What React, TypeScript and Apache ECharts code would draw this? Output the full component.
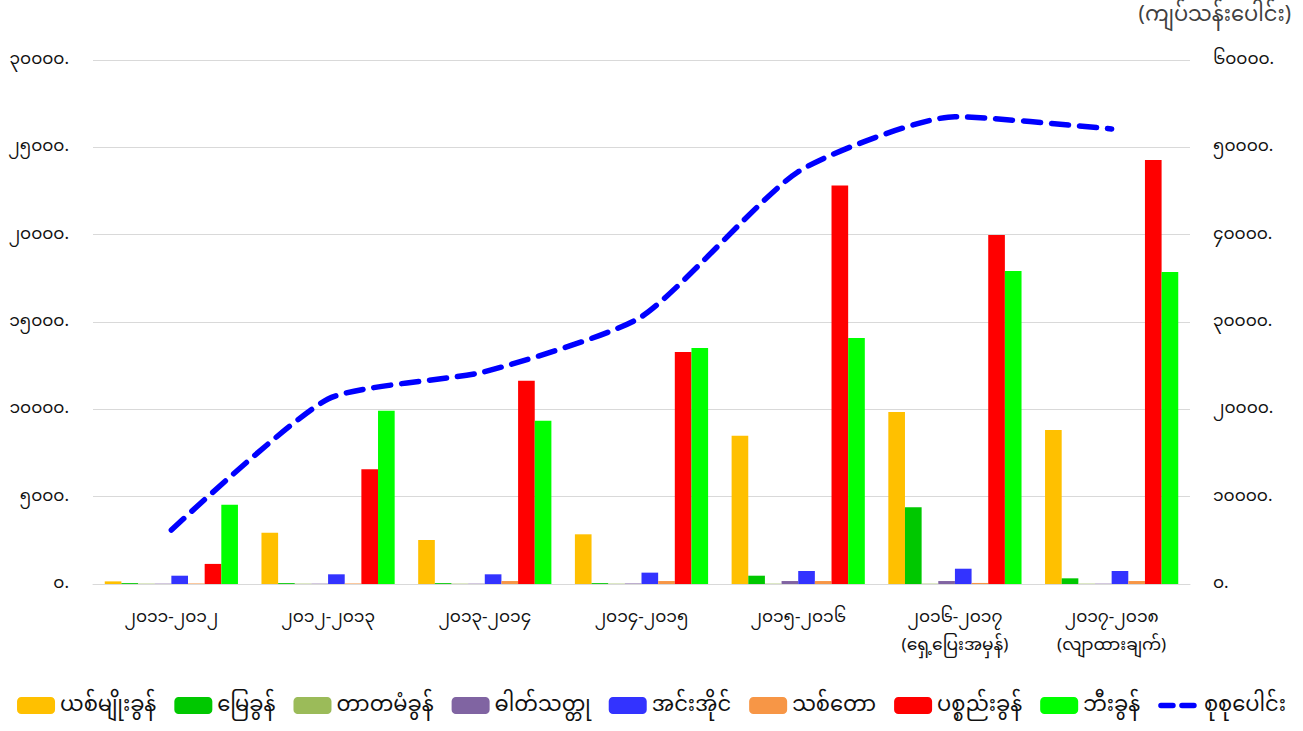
import React, { useEffect, useRef } from "react";
import * as echarts from "echarts";

const categories = [
  "၂၀၁၁-၂၀၁၂",
  "၂၀၁၂-၂၀၁၃",
  "၂၀၁၃-၂၀၁၄",
  "၂၀၁၄-၂၀၁၅",
  "၂၀၁၅-၂၀၁၆",
  "၂၀၁၆-၂၀၁၇\n(ရှေ့ပြေးအမှန်)",
  "၂၀၁၇-၂၀၁၈\n(လျာထားချက်)",
];

const leftTickLabels = ["၀.", "၅၀၀၀.", "၁၀၀၀၀.", "၁၅၀၀၀.", "၂၀၀၀၀.", "၂၅၀၀၀.", "၃၀၀၀၀."];
const rightTickLabels = ["၀.", "၁၀၀၀၀.", "၂၀၀၀၀.", "၃၀၀၀၀.", "၄၀၀၀၀.", "၅၀၀၀၀.", "၆၀၀၀၀."];

const exciseTax = [150, 2940, 2520, 2845, 8490, 9845, 8815];
const landTax = [50, 50, 50, 50, 475, 4390, 325];
const embankmentTax = [20, 20, 20, 20, 20, 20, 20];
const minerals = [20, 20, 20, 30, 170, 170, 20];
const fisheries = [475, 555, 555, 650, 745, 875, 745];
const forest = [30, 30, 170, 170, 170, 60, 170];
const commercialTax = [1150, 6565, 11640, 13280, 22820, 19975, 24270];
const wheelTax = [4540, 9920, 9350, 13510, 14080, 17915, 17860];
const totals = [6180, 21180, 24310, 30610, 47210, 53510, 52100];

const barSeries = [
  { name: "ယစ်မျိုးခွန်", data: exciseTax, color: "#FFC000" },
  { name: "မြေခွန်", data: landTax, color: "#00C800" },
  { name: "တာတမံခွန်", data: embankmentTax, color: "#9BBB59" },
  { name: "ဓါတ်သတ္တု", data: minerals, color: "#8064A2" },
  { name: "အင်းအိုင်", data: fisheries, color: "#3333FF" },
  { name: "သစ်တော", data: forest, color: "#F79646" },
  { name: "ပစ္စည်းခွန်", data: commercialTax, color: "#FF0000" },
  { name: "ဘီးခွန်", data: wheelTax, color: "#00FF00" },
];
const lineName = "စုစုပေါင်း";
const unitLabel = "(ကျပ်သန်းပေါင်း)";

const FONT = "'Noto Sans Myanmar', 'Padauk', 'Myanmar Text', 'Noto Sans', 'DejaVu Sans', sans-serif";

export default function App() {
  const ref = useRef<HTMLDivElement>(null);
  useEffect(() => {
    document.body.style.margin = "0";
    if (!ref.current) return;
    const chart = echarts.init(ref.current, undefined, { renderer: "svg" });
    const series: any[] = barSeries.map((s) => ({
      name: s.name,
      type: "bar",
      yAxisIndex: 0,
      data: s.data,
      barGap: "0%",
      barCategoryGap: "15%",
      itemStyle: { color: s.color },
    }));
    series.push({
      name: lineName,
      type: "line",
      yAxisIndex: 1,
      data: totals,
      smooth: 0.2,
      symbol: "none",
      lineStyle: { color: "#0000FF", width: 5.5, type: [17, 11], cap: "round" },
      itemStyle: { color: "#0000FF" },
    });
    chart.setOption({
      animation: false,
      textStyle: { fontFamily: FONT },
      grid: { left: 93, right: 113, top: 60, bottom: 147, containLabel: false },
      legend: {
        bottom: 10,
        left: "center",
        itemWidth: 38,
        itemHeight: 17,
        itemGap: 18,
        textStyle: { fontSize: 21, color: "#111", fontFamily: FONT },
        data: [
          ...barSeries.map((s) => s.name),
          {
            name: lineName,
            itemStyle: { opacity: 0 },
            lineStyle: { color: "#0000FF", width: 5.5, type: [12, 9], cap: "round" },
          },
        ],
      },
      graphic: [
        {
          type: "text",
          right: 12,
          top: 5,
          style: { text: unitLabel, fontSize: 21, fill: "#404040", fontFamily: FONT },
        },
      ],
      xAxis: {
        type: "category",
        data: categories,
        axisLine: { lineStyle: { color: "#D9D9D9" } },
        axisTick: { show: false },
        axisLabel: { fontSize: 17, color: "#111", margin: 20, lineHeight: 28, fontFamily: FONT },
      },
      yAxis: [
        {
          type: "value",
          min: 0,
          max: 30000,
          interval: 5000,
          axisLine: { show: false },
          axisTick: { show: false },
          splitLine: { lineStyle: { color: "#D9D9D9" } },
          axisLabel: {
            fontSize: 17,
            color: "#111",
            margin: 24,
            fontFamily: FONT,
            formatter: (v: number) => leftTickLabels[Math.round(v / 5000)] ?? "",
          },
        },
        {
          type: "value",
          min: 0,
          max: 60000,
          interval: 10000,
          axisLine: { show: false },
          axisTick: { show: false },
          splitLine: { show: false },
          axisLabel: {
            fontSize: 17,
            color: "#111",
            margin: 23,
            fontFamily: FONT,
            formatter: (v: number) => rightTickLabels[Math.round(v / 10000)] ?? "",
          },
        },
      ],
      series,
    });
    return () => chart.dispose();
  }, []);
  return <div ref={ref} style={{ width: 1303, height: 731 }} />;
}
